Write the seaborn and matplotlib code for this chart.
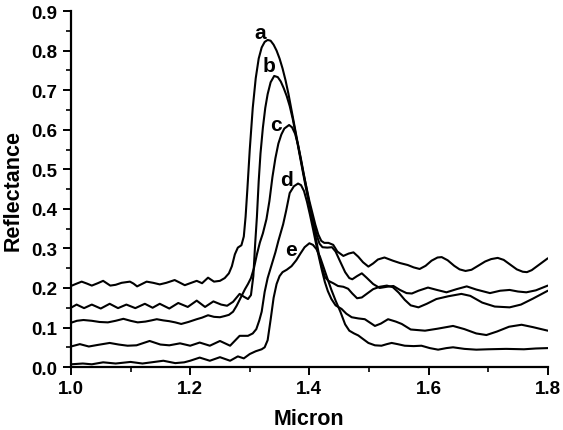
import matplotlib
matplotlib.use("Agg")
import matplotlib.pyplot as plt
from matplotlib.ticker import MultipleLocator, FormatStrFormatter
import seaborn as sns
import pandas as pd

# ---------------- data ----------------
curve_labels = ["a", "b", "c", "d", "e"]

x_a = [1.000, 1.008, 1.018, 1.027, 1.035, 1.045, 1.054, 1.060, 1.066, 1.075, 1.085, 1.099, 1.105, 1.111,
       1.119, 1.127, 1.138, 1.149, 1.160, 1.174, 1.182, 1.191, 1.200, 1.211, 1.220, 1.230, 1.240, 1.250,
       1.258, 1.265, 1.270, 1.275, 1.280, 1.286, 1.290, 1.293, 1.296, 1.300, 1.305, 1.310, 1.315, 1.320,
       1.325, 1.330, 1.335, 1.340, 1.345, 1.350, 1.355, 1.360, 1.365, 1.370, 1.375, 1.380, 1.385, 1.390,
       1.395, 1.400, 1.405, 1.410, 1.415, 1.420, 1.425, 1.432, 1.440, 1.447, 1.457, 1.466, 1.474, 1.482,
       1.490, 1.499, 1.507, 1.515, 1.526, 1.540, 1.552, 1.565, 1.575, 1.585, 1.595, 1.605, 1.615, 1.622,
       1.632, 1.643, 1.652, 1.662, 1.672, 1.683, 1.695, 1.705, 1.716, 1.726, 1.737, 1.748, 1.758, 1.765,
       1.773, 1.782, 1.791, 1.800]
y_a = [0.205, 0.210, 0.216, 0.211, 0.206, 0.212, 0.218, 0.212, 0.206, 0.208, 0.213, 0.216, 0.211, 0.204,
       0.210, 0.216, 0.213, 0.209, 0.213, 0.220, 0.214, 0.207, 0.212, 0.218, 0.212, 0.226, 0.216, 0.218,
       0.225, 0.237, 0.255, 0.285, 0.302, 0.308, 0.330, 0.380, 0.450, 0.550, 0.655, 0.730, 0.780, 0.808,
       0.822, 0.827, 0.825, 0.815, 0.800, 0.780, 0.755, 0.725, 0.690, 0.650, 0.610, 0.570, 0.530, 0.490,
       0.455, 0.420, 0.390, 0.360, 0.335, 0.319, 0.314, 0.314, 0.309, 0.292, 0.281, 0.287, 0.290, 0.279,
       0.265, 0.254, 0.262, 0.272, 0.277, 0.269, 0.263, 0.258, 0.252, 0.248, 0.256, 0.269, 0.277, 0.278,
       0.270, 0.256, 0.247, 0.243, 0.246, 0.256, 0.267, 0.273, 0.276, 0.271, 0.259, 0.247, 0.241, 0.240,
       0.245, 0.255, 0.265, 0.275]

x_b = [1.000, 1.0095, 1.022, 1.035, 1.050, 1.065, 1.079, 1.093, 1.108, 1.124, 1.137, 1.149, 1.165, 1.180,
       1.196, 1.211, 1.225, 1.239, 1.252, 1.262, 1.272, 1.283, 1.290, 1.297, 1.302, 1.306, 1.309, 1.312,
       1.315, 1.318, 1.322, 1.326, 1.330, 1.335, 1.341, 1.347, 1.352, 1.357, 1.362, 1.367, 1.372, 1.377,
       1.382, 1.387, 1.392, 1.397, 1.402, 1.407, 1.412, 1.417, 1.422, 1.430, 1.438, 1.444, 1.451, 1.460,
       1.467, 1.472, 1.480, 1.488, 1.496, 1.507, 1.518, 1.530, 1.541, 1.552, 1.563, 1.572, 1.583, 1.599,
       1.614, 1.630, 1.647, 1.664, 1.680, 1.703, 1.720, 1.736, 1.750, 1.764, 1.780, 1.800]
y_b = [0.150, 0.158, 0.149, 0.158, 0.148, 0.160, 0.149, 0.158, 0.149, 0.160, 0.150, 0.160, 0.148, 0.162,
       0.152, 0.168, 0.152, 0.166, 0.158, 0.155, 0.165, 0.185, 0.178, 0.172, 0.182, 0.230, 0.310, 0.380,
       0.470, 0.540, 0.605, 0.655, 0.690, 0.720, 0.736, 0.733, 0.722, 0.705, 0.685, 0.660, 0.628, 0.590,
       0.550, 0.510, 0.470, 0.432, 0.398, 0.365, 0.335, 0.312, 0.303, 0.302, 0.303, 0.292, 0.269, 0.240,
       0.225, 0.222, 0.230, 0.237, 0.226, 0.210, 0.200, 0.203, 0.205, 0.195, 0.187, 0.186, 0.193, 0.201,
       0.195, 0.189, 0.197, 0.204, 0.196, 0.187, 0.193, 0.195, 0.191, 0.189, 0.194, 0.206]

x_c = [1.000, 1.010, 1.021, 1.035, 1.048, 1.062, 1.075, 1.088, 1.100, 1.112, 1.125, 1.135, 1.144, 1.155,
       1.165, 1.175, 1.185, 1.197, 1.211, 1.220, 1.230, 1.240, 1.250, 1.258, 1.265, 1.272, 1.278, 1.283,
       1.288, 1.292, 1.297, 1.302, 1.307, 1.312, 1.317, 1.322, 1.328, 1.333, 1.338, 1.343, 1.348, 1.353,
       1.358, 1.366, 1.371, 1.376, 1.381, 1.386, 1.391, 1.396, 1.401, 1.406, 1.411, 1.416, 1.421, 1.426,
       1.432, 1.440, 1.448, 1.457, 1.465, 1.472, 1.480, 1.488, 1.497, 1.507, 1.518, 1.530, 1.540, 1.550,
       1.560, 1.570, 1.583, 1.597, 1.613, 1.633, 1.655, 1.670, 1.690, 1.711, 1.736, 1.755, 1.775, 1.800]
y_c = [0.112, 0.117, 0.119, 0.117, 0.114, 0.113, 0.117, 0.122, 0.117, 0.113, 0.115, 0.118, 0.121, 0.118,
       0.116, 0.113, 0.109, 0.114, 0.121, 0.125, 0.131, 0.127, 0.126, 0.129, 0.132, 0.140, 0.155, 0.170,
       0.185, 0.197, 0.210, 0.225, 0.250, 0.285, 0.315, 0.338, 0.374, 0.420, 0.480, 0.528, 0.565, 0.588,
       0.603, 0.612, 0.606, 0.590, 0.562, 0.525, 0.485, 0.445, 0.405, 0.365, 0.325, 0.285, 0.252, 0.228,
       0.218, 0.212, 0.205, 0.203, 0.198, 0.186, 0.174, 0.176, 0.186, 0.197, 0.203, 0.206, 0.202, 0.188,
       0.170, 0.156, 0.151, 0.160, 0.172, 0.179, 0.185, 0.180, 0.163, 0.153, 0.151, 0.158, 0.173, 0.193]

x_d = [1.000, 1.015, 1.030, 1.045, 1.065, 1.080, 1.095, 1.110, 1.132, 1.150, 1.165, 1.183, 1.200, 1.216,
       1.233, 1.250, 1.267, 1.283, 1.297, 1.305, 1.311, 1.316, 1.320, 1.325, 1.330, 1.337, 1.343, 1.348,
       1.356, 1.361, 1.367, 1.374, 1.381, 1.386, 1.391, 1.396, 1.401, 1.406, 1.411, 1.416, 1.421, 1.426,
       1.431, 1.437, 1.444, 1.454, 1.462, 1.471, 1.482, 1.493, 1.502, 1.510, 1.520, 1.532, 1.545, 1.555,
       1.570, 1.594, 1.615, 1.641, 1.660, 1.680, 1.697, 1.715, 1.735, 1.756, 1.775, 1.800]
y_d = [0.052, 0.058, 0.052, 0.056, 0.061, 0.057, 0.054, 0.055, 0.066, 0.057, 0.055, 0.060, 0.054, 0.062,
       0.054, 0.066, 0.054, 0.079, 0.079, 0.085, 0.096, 0.118, 0.140, 0.190, 0.225, 0.260, 0.290, 0.319,
       0.361, 0.395, 0.440, 0.457, 0.464, 0.460, 0.445, 0.418, 0.385, 0.350, 0.313, 0.278, 0.245, 0.215,
       0.192, 0.172, 0.156, 0.147, 0.135, 0.126, 0.123, 0.121, 0.112, 0.104, 0.110, 0.121, 0.115, 0.109,
       0.095, 0.092, 0.097, 0.104, 0.096, 0.085, 0.081, 0.090, 0.102, 0.107, 0.101, 0.092]

x_e = [1.000, 1.020, 1.035, 1.054, 1.075, 1.100, 1.120, 1.135, 1.155, 1.175, 1.190, 1.200, 1.216, 1.233,
       1.250, 1.267, 1.280, 1.290, 1.300, 1.310, 1.320, 1.325, 1.330, 1.335, 1.340, 1.345, 1.350, 1.355,
       1.362, 1.370, 1.378, 1.385, 1.392, 1.400, 1.406, 1.412, 1.418, 1.423, 1.430, 1.437, 1.444, 1.452,
       1.460, 1.467, 1.475, 1.482, 1.490, 1.499, 1.510, 1.521, 1.530, 1.538, 1.548, 1.560, 1.575, 1.588,
       1.602, 1.616, 1.630, 1.641, 1.660, 1.680, 1.700, 1.730, 1.760, 1.780, 1.800]
y_e = [0.007, 0.009, 0.007, 0.012, 0.009, 0.013, 0.009, 0.012, 0.016, 0.010, 0.012, 0.016, 0.024, 0.016,
       0.025, 0.016, 0.027, 0.022, 0.033, 0.040, 0.045, 0.050, 0.068, 0.120, 0.175, 0.210, 0.230, 0.240,
       0.246, 0.255, 0.270, 0.287, 0.303, 0.313, 0.309, 0.298, 0.278, 0.256, 0.225, 0.195, 0.168, 0.140,
       0.108, 0.092, 0.085, 0.080, 0.071, 0.061, 0.055, 0.054, 0.058, 0.061, 0.058, 0.054, 0.053, 0.054,
       0.048, 0.044, 0.048, 0.050, 0.046, 0.044, 0.045, 0.046, 0.045, 0.047, 0.048]

label_x = [1.317, 1.333, 1.344, 1.361, 1.370]
label_y = [0.846, 0.762, 0.614, 0.475, 0.297]

x_ticks = [1.0, 1.2, 1.4, 1.6, 1.8]
y_ticks = [0.0, 0.1, 0.2, 0.3, 0.4, 0.5, 0.6, 0.7, 0.8, 0.9]

# ---------------- plotting ----------------
sns.set_style("ticks")
plt.rcParams["font.family"] = ["Liberation Sans", "DejaVu Sans"]
plt.rcParams["font.weight"] = "bold"
plt.rcParams["text.color"] = "black"
plt.rcParams["axes.labelcolor"] = "black"
plt.rcParams["xtick.color"] = "black"
plt.rcParams["ytick.color"] = "black"
plt.rcParams["axes.edgecolor"] = "black"

xs = [x_a, x_b, x_c, x_d, x_e]
ys = [y_a, y_b, y_c, y_d, y_e]
frames = []
for lab, xv, yv in zip(curve_labels, xs, ys):
    frames.append(pd.DataFrame({"Micron": xv, "Reflectance": yv, "curve": lab}))
df = pd.concat(frames, ignore_index=True)

fig = plt.figure(figsize=(5.63, 4.31), dpi=100)
ax = fig.add_axes([0.126, 0.146, 0.847, 0.826])

sns.lineplot(data=df, x="Micron", y="Reflectance", hue="curve",
             palette=["black"] * 5, estimator=None, sort=False,
             linewidth=1.5, legend=False, ax=ax)

for lab, lx, ly in zip(curve_labels, label_x, label_y):
    ax.text(lx, ly, lab, fontsize=15, fontweight="bold", ha="center", va="center", color="black")

ax.set_xlim(1.0, 1.8)
ax.set_ylim(0.0, 0.9)
ax.set_xticks(x_ticks)
ax.set_yticks(y_ticks)
ax.xaxis.set_major_formatter(FormatStrFormatter("%.1f"))
ax.yaxis.set_major_formatter(FormatStrFormatter("%.1f"))
ax.xaxis.set_minor_locator(MultipleLocator(0.1))
ax.yaxis.set_minor_locator(MultipleLocator(0.05))
ax.tick_params(which="major", direction="out", length=6, width=1.4, labelsize=13.5, colors="black")
ax.tick_params(which="minor", direction="out", length=3.5, width=1.2, colors="black")
for lbl in ax.get_xticklabels() + ax.get_yticklabels():
    lbl.set_fontweight("bold")

ax.set_xlabel("Micron", fontsize=15.5, fontweight="bold", labelpad=8, color="black")
ax.set_ylabel("Reflectance", fontsize=15.5, fontweight="bold", labelpad=6, color="black")

sns.despine(ax=ax)
for sp in ["left", "bottom"]:
    ax.spines[sp].set_linewidth(1.6)
    ax.spines[sp].set_color("black")

fig.savefig("out.png", dpi=100)
